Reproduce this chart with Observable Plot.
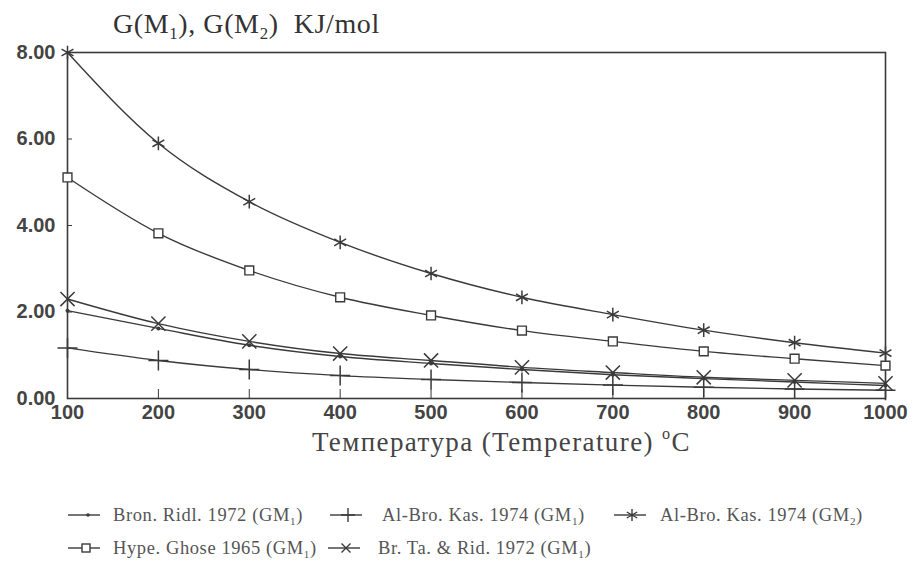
<!DOCTYPE html>
<html>
<head>
<meta charset="utf-8">
<script src="https://cdn.jsdelivr.net/npm/d3@7"></script>
<script src="https://cdn.jsdelivr.net/npm/@observablehq/plot@0.6"></script>
<style>
  body { margin: 0; background: #fff; }
  #wrap { position: relative; width: 913px; height: 562px; overflow: hidden; }
  #wrap svg.chart { position: absolute; left: 0; top: 0; }
  .title { position: absolute; left: 113px; top: 8px; font-family: "Liberation Serif", "Times New Roman", serif; font-size: 28px; color: #333; white-space: nowrap; letter-spacing: 0.6px; }
  .xlabel { position: absolute; left: 312px; top: 427px; font-family: "Liberation Serif", "Times New Roman", serif; font-size: 27px; color: #444; white-space: nowrap; letter-spacing: 1.4px; }
  sub { font-size: 0.6em; vertical-align: -0.35em; line-height: 0; }
  sup { font-size: 0.6em; vertical-align: 0.75em; line-height: 0; }
  .lg { position: absolute; font-family: "Liberation Serif", "Times New Roman", serif; font-size: 18.5px; color: #555; white-space: nowrap; letter-spacing: 0.6px; line-height: 20px; }
  .ic { position: absolute; }
</style>
</head>
<body>
<div id="wrap"></div>
<script>
const temps = [100, 200, 300, 400, 500, 600, 700, 800, 900, 1000];
const bronRidlGM1 = [2.03, 1.62, 1.23, 0.97, 0.81, 0.67, 0.55, 0.46, 0.38, 0.30];
const alBroKasGM1 = [1.17, 0.88, 0.67, 0.53, 0.44, 0.37, 0.31, 0.26, 0.22, 0.19];
const alBroKasGM2 = [8.00, 5.90, 4.55, 3.61, 2.89, 2.34, 1.94, 1.58, 1.29, 1.05];
const hypeGhoseGM1 = [5.11, 3.82, 2.96, 2.34, 1.92, 1.57, 1.32, 1.09, 0.92, 0.76];
const brTaRidGM1 = [2.30, 1.73, 1.32, 1.04, 0.88, 0.72, 0.60, 0.49, 0.42, 0.35];
const yTicks = [0, 2, 4, 6, 8];
const xTicks = [100, 200, 300, 400, 500, 600, 700, 800, 900, 1000];

const seriesNames = ["Bron. Ridl. 1972", "Al-Bro. Kas. 1974", "Al-Bro. Kas. 1974", "Hype. Ghose 1965", "Br. Ta. & Rid. 1972"];
const seriesSub = ["1", "1", "2", "1", "1"];
const seriesValues = [bronRidlGM1, alBroKasGM1, alBroKasGM2, hypeGhoseGM1, brTaRidGM1];
const seriesSymbols = ["dot", "plus", "asterisk", "square", "times"];

const ink = "#3a3a3a";
const rows = [];
seriesValues.forEach((vals, i) => vals.forEach((v, j) => rows.push({series: i, t: temps[j], g: v})));

const marks = [
  Plot.frame({stroke: ink, strokeWidth: 1.6}),
  Plot.axisY({ticks: yTicks, tickFormat: d3.format(".2f"), tickSize: -5, tickPadding: 17,
    fontSize: 20, fontWeight: "bold", fontFamily: "Liberation Sans, sans-serif", fill: "#444", stroke: ink, label: null,
    style: {letterSpacing: "1px"}}),
  Plot.axisX({ticks: xTicks, tickFormat: d3.format("d"), tickSize: -9, tickPadding: 15,
    fontSize: 20, fontWeight: "bold", fontFamily: "Liberation Sans, sans-serif", fill: "#444", stroke: ink, label: null,
    style: {letterSpacing: "1px"}})
];
seriesValues.forEach((vals, i) => {
  const data = rows.filter(d => d.series === i);
  marks.push(Plot.line(data, {x: "t", y: "g", curve: "monotone-x", stroke: ink, strokeWidth: 1.4}));
  const sym = seriesSymbols[i];
  if (sym === "dot") {
    marks.push(Plot.dot(data, {x: "t", y: "g", r: 2, fill: ink}));
  } else if (sym === "square") {
    marks.push(Plot.dot(data, {x: "t", y: "g", symbol: "square", r: 5, stroke: ink, fill: "white", strokeWidth: 1.4}));
  } else {
    marks.push(Plot.dot(data, {x: "t", y: "g", symbol: sym, r: 6.5, stroke: ink, strokeWidth: 1.5}));
  }
});

const chart = Plot.plot({
  width: 913,
  height: 562,
  marginLeft: 67,
  marginRight: 28,
  marginTop: 52,
  marginBottom: 164,
  x: {domain: [100, 1000]},
  y: {domain: [0, 8]},
  style: {background: "white", color: ink},
  marks
});
chart.classList.add("chart");
const wrap = document.getElementById("wrap");
wrap.appendChild(chart);

const title = document.createElement("div");
title.className = "title";
title.innerHTML = "G(M<sub>1</sub>), G(M<sub>2</sub>) &nbsp;KJ/mol";
wrap.appendChild(title);

const xl = document.createElement("div");
xl.className = "xlabel";
xl.innerHTML = "Температура (Temperature) <sup>o</sup>C";
wrap.appendChild(xl);

function icon(sym) {
  let s = `<svg width="32" height="14" viewBox="0 0 32 14"><line x1="0" y1="7" x2="32" y2="7" stroke="${ink}" stroke-width="1.4"/>`;
  if (sym === "dot") s += `<circle cx="20" cy="7" r="1.8" fill="${ink}"/>`;
  if (sym === "plus") s += `<path d="M18 0V14M11 7H25" stroke="${ink}" stroke-width="1.4"/>`;
  if (sym === "asterisk") s += `<path d="M18 1V13M12.8 4L23.2 10M12.8 10L23.2 4" stroke="${ink}" stroke-width="1.4"/>`;
  if (sym === "square") s += `<rect x="14" y="3" width="8" height="8" fill="white" stroke="${ink}" stroke-width="1.4"/>`;
  if (sym === "times") s += `<path d="M13.5 2.5L22.5 11.5M13.5 11.5L22.5 2.5" stroke="${ink}" stroke-width="1.4"/>`;
  return s + "</svg>";
}
// legend placement (layout only): [series index, icon x, text x, row y]
const legendPos = [[0, 68, 113, 516], [1, 330, 382, 516], [2, 614, 660, 516], [3, 68, 113, 549], [4, 328, 378, 549]];
legendPos.forEach(([i, ix, tx, y]) => {
  const ic = document.createElement("div");
  ic.className = "ic";
  ic.style.left = ix + "px";
  ic.style.top = (y - 8) + "px";
  ic.innerHTML = icon(seriesSymbols[i]);
  wrap.appendChild(ic);
  const t = document.createElement("div");
  t.className = "lg";
  t.style.left = tx + "px";
  t.style.top = (y - 11) + "px";
  t.innerHTML = `${seriesNames[i]} (GM<sub>${seriesSub[i]}</sub>)`;
  wrap.appendChild(t);
});
</script>
</body>
</html>
